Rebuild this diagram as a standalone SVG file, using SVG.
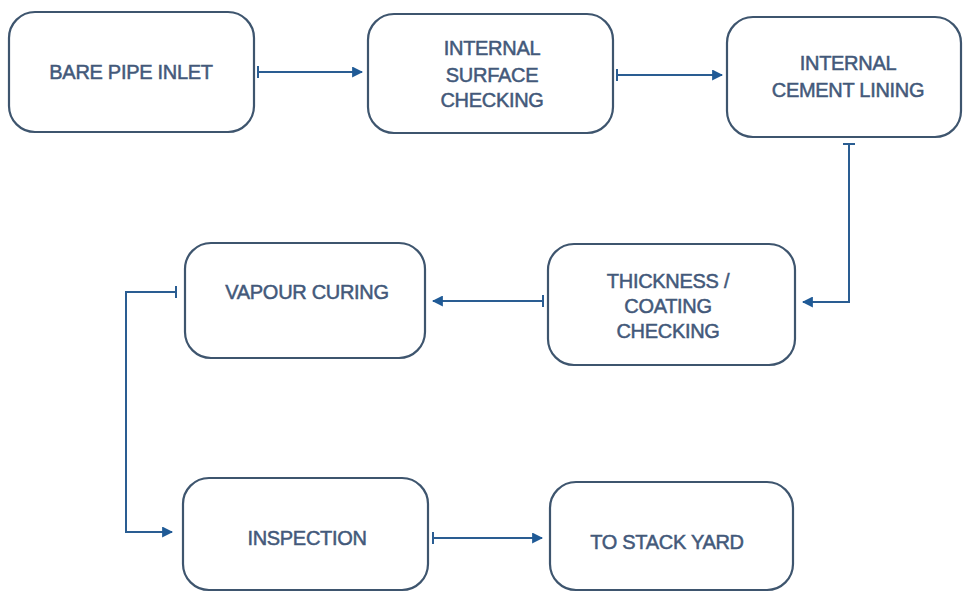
<svg xmlns="http://www.w3.org/2000/svg" width="963" height="593" viewBox="0 0 963 593">
<defs>
<style>
.box{fill:#ffffff;stroke:#3e556e;stroke-width:2.2}
.t{font-family:"Liberation Sans",Arial,sans-serif;font-size:20px;fill:#43597a;stroke:#43597a;stroke-width:0.5;text-anchor:middle;letter-spacing:-0.3px}
.c{fill:none;stroke:#2a5d92;stroke-width:2}
</style>
<marker id="ah" viewBox="0 0 10 10" refX="9" refY="5" markerWidth="5.5" markerHeight="5.5" orient="auto" markerUnits="strokeWidth">
<path d="M0,0 L10,5 L0,10 z" fill="#1f5a96"/>
</marker>
<marker id="tk" viewBox="0 0 4 12" refX="2" refY="6" markerWidth="2" markerHeight="6" orient="auto" markerUnits="strokeWidth">
<rect x="1" y="0" width="2" height="12" fill="#2a5d92"/>
</marker>
</defs>
<rect width="963" height="593" fill="#ffffff"/>
<g id="connectors">
<path class="c" d="M258,72 H362" marker-start="url(#tk)" marker-end="url(#ah)"/>
<path class="c" d="M617,75 H722" marker-start="url(#tk)" marker-end="url(#ah)"/>
<path class="c" d="M849,144 V302 H803" marker-start="url(#tk)" marker-end="url(#ah)"/>
<path class="c" d="M543,301 H433" marker-start="url(#tk)" marker-end="url(#ah)"/>
<path class="c" d="M176,292 H126 V532 H172" marker-start="url(#tk)" marker-end="url(#ah)"/>
<path class="c" d="M433,538 H542" marker-start="url(#tk)" marker-end="url(#ah)"/>
</g>
<g id="n1">
<rect class="box" x="9" y="12" width="245" height="120" rx="26"/>
<text class="t" x="131" y="79">BARE PIPE INLET</text>
</g>
<g id="n2">
<rect class="box" x="368" y="14" width="245" height="119" rx="26"/>
<text class="t" x="492" y="55">INTERNAL</text>
<text class="t" x="492" y="82">SURFACE</text>
<text class="t" x="492" y="107">CHECKING</text>
</g>
<g id="n3">
<rect class="box" x="727" y="17" width="234" height="120" rx="26"/>
<text class="t" x="848" y="70">INTERNAL</text>
<text class="t" x="848" y="97">CEMENT LINING</text>
</g>
<g id="n4">
<rect class="box" x="548" y="244" width="247" height="121" rx="26"/>
<text class="t" x="668" y="288">THICKNESS /</text>
<text class="t" x="668" y="313">COATING</text>
<text class="t" x="668" y="338">CHECKING</text>
</g>
<g id="n5">
<rect class="box" x="185" y="243" width="240" height="115" rx="26"/>
<text class="t" x="307" y="299">VAPOUR CURING</text>
</g>
<g id="n6">
<rect class="box" x="183" y="478" width="245" height="112" rx="26"/>
<text class="t" x="307" y="545">INSPECTION</text>
</g>
<g id="n7">
<rect class="box" x="550" y="482" width="243" height="108" rx="26"/>
<text class="t" x="667" y="549">TO STACK YARD</text>
</g>
</svg>
